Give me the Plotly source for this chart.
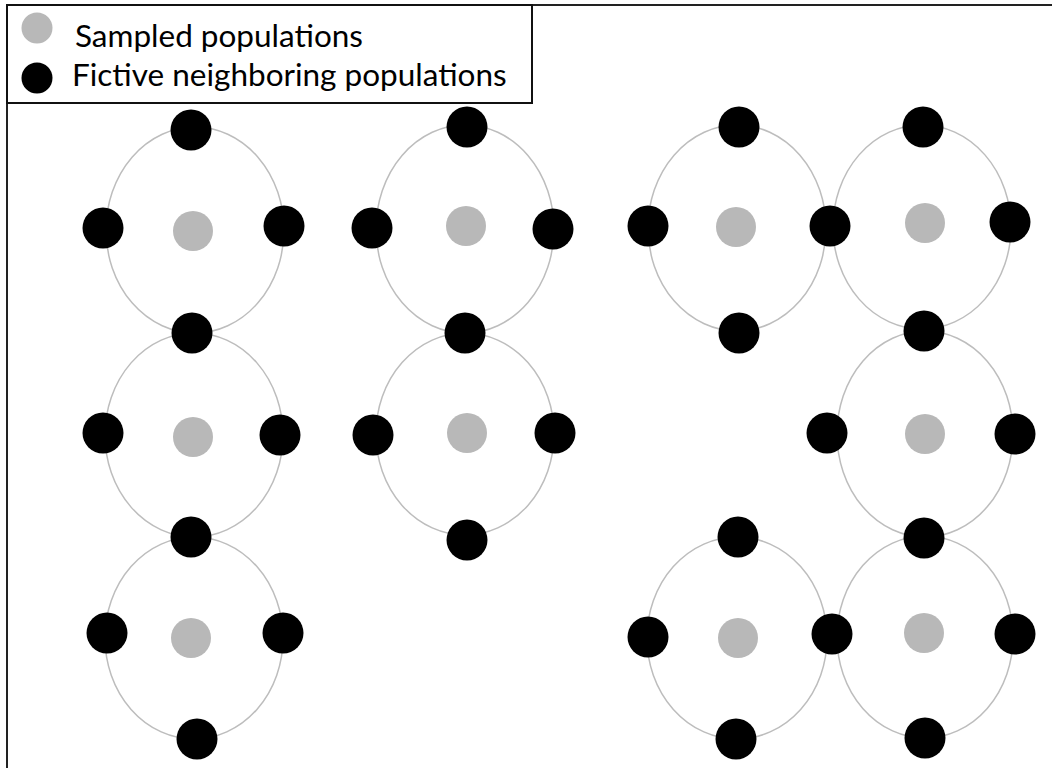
import plotly.graph_objects as go

# Sampled populations (grey), one per cluster
sampled_x = [193, 193, 191, 466, 467, 736, 925, 925, 738, 924]
sampled_y = [231, 437, 638, 226, 433, 227, 223, 434, 638, 633]

# Fictive neighboring populations (black)
fictive_x = [191, 103, 284, 192,
             103, 280, 191,
             107, 283, 197,
             467, 372, 553, 465,
             373, 555, 467,
             739, 648, 830, 739,
             923, 1010, 924,
             827, 1015, 924,
             738, 648, 832, 736,
             1015, 925]
fictive_y = [130, 228, 226, 333,
             433, 435, 537,
             633, 633, 739,
             127, 228, 229, 333,
             435, 433, 540,
             127, 226, 226, 333,
             127, 222, 331,
             433, 434, 538,
             537, 637, 634, 739,
             634, 738]

# Neighbourhood ellipses: centre and semi-axes
ell_cx = [195, 194, 194, 465, 465, 737, 922, 925, 737, 925]
ell_cy = [230, 435, 638, 229, 434, 228, 227, 434, 638, 637]
ell_rx = [89, 89, 89, 89, 89, 89, 89, 88, 90, 88]
ell_ry = [103, 102, 101, 104, 101, 103, 102, 103, 101, 101]

legend_labels = ["Sampled populations", "Fictive neighboring populations"]

GREY = "#b8b8b8"
ELL = "#bdbdbd"

fig = go.Figure()

shapes = []
for cx, cy, rx, ry in zip(ell_cx, ell_cy, ell_rx, ell_ry):
    shapes.append(dict(type="circle", xref="x", yref="y",
                       x0=cx - rx, x1=cx + rx, y0=cy - ry, y1=cy + ry,
                       line=dict(color=ELL, width=1.5), layer="below"))

# outer frame
shapes.append(dict(type="rect", xref="x", yref="y", x0=7, x1=1070, y0=5, y1=790,
                   line=dict(color="#222222", width=2), layer="below"))

# legend box (drawn manually to get large symbols)
shapes.append(dict(type="rect", xref="x", yref="y", x0=7, x1=532, y0=5, y1=103,
                   line=dict(color="#111111", width=2), fillcolor="white", layer="below"))

fig.add_trace(go.Scatter(x=sampled_x, y=sampled_y, mode="markers",
                         marker=dict(size=40, color=GREY, line=dict(width=0)),
                         name=legend_labels[0], showlegend=False, hoverinfo="skip"))
fig.add_trace(go.Scatter(x=fictive_x, y=fictive_y, mode="markers",
                         marker=dict(size=41, color="black", line=dict(width=0)),
                         name=legend_labels[1], showlegend=False, hoverinfo="skip"))

leg_y = [28, 78]
leg_colors = [GREY, "black"]
fig.add_trace(go.Scatter(x=[37, 37], y=leg_y, mode="markers",
                         marker=dict(size=31, color=leg_colors, line=dict(width=0)),
                         showlegend=False, hoverinfo="skip"))

annotations = []
for lbl, yy, xx in zip(legend_labels, [35, 74], [73, 70]):
    annotations.append(dict(x=xx, y=yy, xref="x", yref="y", text=lbl,
                            showarrow=False, xanchor="left", yanchor="middle",
                            font=dict(family="Lato", size=31.5, color="black")))

fig.update_layout(
    width=1052, height=768,
    margin=dict(l=0, r=0, t=0, b=0),
    paper_bgcolor="white", plot_bgcolor="white",
    xaxis=dict(range=[0, 1052], visible=False, fixedrange=True),
    yaxis=dict(range=[768, 0], visible=False, fixedrange=True),
    annotations=annotations,
    shapes=shapes,
    showlegend=False,
)

fig.write_html("out.html", config={"displayModeBar": False},
               post_script="document.body.style.margin='0';")
